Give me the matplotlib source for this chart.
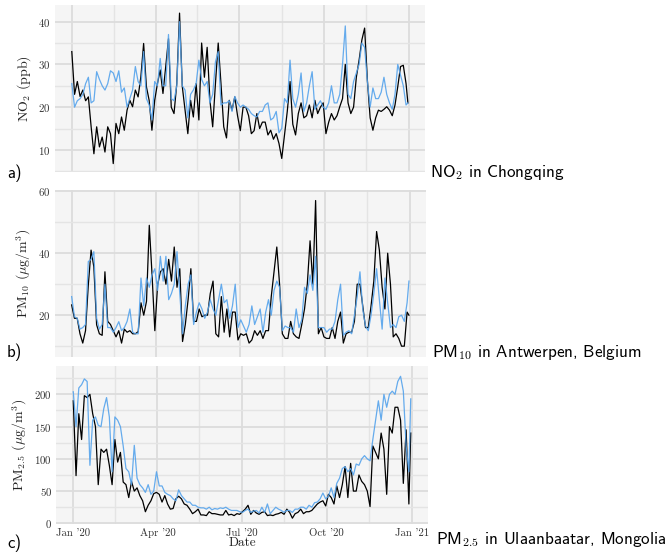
import numpy as np
import pandas as pd
import matplotlib
matplotlib.use("Agg")
import matplotlib.pyplot as plt
import matplotlib.dates as mdates
from matplotlib.ticker import MultipleLocator, FixedLocator

# -----------------------------
# Data (one value every 3 days of 2020)
# -----------------------------
days = list(range(0, 364, 3)) + [365]

no2_obs = [33, 23, 26, 22.5, 24, 21.5, 22.4, 15.4, 9.1, 15.4,
           10.7, 13, 9.5, 15.4, 13.8, 6.8, 16.2, 13.8, 17.7, 14.6,
           19.3, 21.6, 20.1, 24, 22.4, 27.1, 34.9, 24.8, 21.6, 14.6,
           21.6, 25.5, 28.7, 23.2, 29.5, 36, 20, 18.5, 25.5, 42,
           24.8, 19.3, 13.8, 21.6, 17.7, 25.5, 17, 35, 27, 34,
           21.6, 15.4, 25.5, 35, 25.5, 15.4, 12.8, 21.6, 19.3, 22.4,
           18, 14.5, 20, 20, 18, 13.8, 14.5, 18.5, 15, 16.5,
           16.5, 13.5, 14.6, 12.5, 13.8, 11.5, 8, 13.5, 19, 26,
           16, 13.5, 18.5, 21, 17.5, 18, 20.5, 17.5, 21.6, 18.5,
           20, 21, 13.8, 16.5, 18.5, 17, 18, 20.1, 22, 30,
           21, 18.5, 20, 27, 31, 35.7, 38.5, 26.3, 17.5, 14.6,
           17.5, 19.3, 19, 19.5, 20.1, 19.3, 18, 20.5, 24.8, 29.5,
           29.8, 25.5, 21]
no2_mod = [25.5, 20, 21.5, 22, 23, 25.5, 27, 21, 21.5, 28.3,
           26.5, 25, 24, 25.5, 28.5, 28, 26, 28.5, 23.5, 24.5,
           20, 22, 24, 29.5, 26, 25, 33, 22, 20.5, 17,
           26, 25, 31.4, 25, 25, 37, 22, 21.5, 25, 40,
           25, 24, 17.5, 23, 24, 25.5, 31, 26.5, 25, 26,
           21, 23, 30.6, 33, 20.5, 21, 21, 21.5, 19, 22.5,
           21, 20, 20.5, 20, 19.5, 18.5, 18, 17.7, 19, 19,
           20.5, 21, 17, 17.5, 19, 14, 15, 22, 21, 31,
           22, 20, 23, 28, 19, 21, 25, 28.3, 19.5, 20.5,
           21.5, 20, 19.5, 21, 25, 21, 21, 23, 30, 39,
           23, 22, 26, 28, 30, 35, 34, 26, 20, 24.5,
           22, 22, 23.5, 27, 23, 21, 19.5, 23, 30, 27.5,
           25, 20.5, 21]

pm10_obs = [23.3, 19, 19, 14, 11, 15, 29.7, 41, 35.6, 16.9,
            14, 13.5, 34, 18, 17, 15, 13, 15, 11, 15.5,
            14.5, 15, 14, 14, 14.7, 24, 20, 24.5, 49, 33,
            15, 29.7, 34, 35, 30, 38, 31, 42, 29, 35,
            11.5, 17, 25, 35, 18, 18, 22, 19.5, 20, 20,
            27, 31, 14, 13, 26, 14.5, 22, 13, 21, 21,
            12, 14, 13.5, 14, 11, 12, 15, 13.5, 15, 12.5,
            15, 15, 26, 34, 42, 30, 14, 12.5, 12.5, 18,
            14, 13, 12.5, 17, 22, 30, 44, 30, 57, 14,
            16, 13, 12.5, 12.5, 16, 12.5, 18, 21, 11, 14,
            14.5, 14.5, 18, 30, 30, 23, 16, 16, 23, 31,
            47, 41, 29, 22, 40, 30, 13, 14, 12.5, 10,
            10, 21, 20]
pm10_mod = [26, 19.5, 19, 15.5, 16, 17, 37.3, 38, 40.5, 19,
            15.5, 17, 30, 16, 16, 14.5, 16, 17.9, 15, 16,
            18, 22, 14.5, 14, 14, 32, 23, 32, 29, 33,
            35, 28, 39, 31, 39, 25, 27, 30, 40.5, 27,
            14, 23, 30, 33, 17, 21, 24, 22, 19, 21,
            25, 22, 20, 25, 30, 24, 25, 19, 23, 30,
            16, 18.5, 16.5, 14.5, 17, 23, 17, 19.5, 22, 14.5,
            21, 25, 20, 28, 31, 29, 15, 16.5, 16, 16,
            14.5, 22, 16, 18.5, 29, 27, 33, 28, 39, 16,
            16, 16, 14.5, 15.5, 15.5, 18, 25, 30, 13.5, 14.5,
            15, 14, 20, 26, 34, 22, 16.5, 15, 20, 27,
            35, 25, 15.5, 32, 24, 16, 17, 16, 19.5, 20,
            18, 24, 31]

pm25_obs = [190, 74, 170, 130, 198, 195, 200, 170, 150, 60,
            115, 110, 115, 90, 60, 130, 95, 110, 64, 60,
            40, 65, 50, 55, 43, 35, 18, 28, 35, 46,
            48, 45, 33, 43, 30, 22, 23, 38, 42, 38,
            30, 28, 22, 15, 18, 22, 13, 13, 12, 18,
            15, 15, 14, 13, 13, 20, 13, 14, 12, 15,
            14, 18, 22, 28, 14, 20, 16, 14, 17, 18,
            12, 13, 12, 14, 15, 17, 14, 22, 17, 8,
            15, 17, 22, 15, 18, 18, 20, 25, 30, 33,
            35, 27, 45, 40, 30, 58, 40, 60, 88, 40,
            93, 50, 50, 75, 65, 60, 50, 26, 120, 110,
            100, 140, 115, 45, 150, 140, 180, 180, 160, 62,
            145, 30, 140]
pm25_mod = [204, 150, 210, 215, 224, 220, 90, 160, 165, 152,
            150, 178, 195, 165, 80, 165, 160, 150, 120, 85,
            80, 60, 121, 70, 60, 55, 48, 60, 45, 50,
            80, 58, 58, 48, 45, 43, 38, 35, 52, 43,
            38, 33, 33, 28, 28, 25, 24, 24, 22, 25,
            21, 23, 22, 24, 23, 25, 22, 20, 20, 20,
            18, 17, 20, 22, 17, 19, 20, 16, 25, 17,
            30, 15, 20, 25, 22, 20, 17, 20, 20, 17,
            22, 22, 25, 25, 22, 28, 25, 32, 33, 38,
            47, 38, 42, 55, 40, 62, 70, 85, 88, 80,
            85, 75, 92, 90, 100, 105, 100, 97, 130, 160,
            190, 160, 200, 180, 200, 205, 200, 220, 228, 205,
            120, 80, 193]

dates = pd.Timestamp("2020-01-01") + pd.to_timedelta(days, unit="D")

panels = [
    ("a)", r"NO$_\mathsf{2}$ in Chongqing", r"NO$_2$ (ppb)", no2_obs, no2_mod, (4.9, 43.9), 10, 5),
    ("b)", r"PM$_\mathsf{10}$ in Antwerpen, Belgium", r"PM$_{10}$ ($\mu$g/m$^3$)", pm10_obs, pm10_mod, (6.6, 60.4), 20, 10),
    ("c)", r"PM$_\mathsf{2.5}$ in Ulaanbaatar, Mongolia", r"PM$_{2.5}$ ($\mu$g/m$^3$)", pm25_obs, pm25_mod, (-1.5, 244), 50, 25),
]

# positions in pixels: left, top, right, bottom ; label baselines
W, H = 671, 552
boxes = [(55, 5, 424.7, 171.7), (54.8, 190, 425.8, 356.7), (56.4, 366, 427.6, 524.3)]
letter_y = [178, 357, 548]
title_xy = [(430, 177), (432, 357), (436, 544)]

plt.rcParams["mathtext.fontset"] = "cm"
plt.rcParams["axes.formatter.use_mathtext"] = True

fig = plt.figure(figsize=(W / 100, H / 100), dpi=100)

x0 = pd.Timestamp("2020-01-01") - pd.Timedelta(hours=18.25 * 24)
x1 = pd.Timestamp("2020-12-31") + pd.Timedelta(hours=18.25 * 24)
majors = pd.to_datetime(["2020-01-01", "2020-04-01", "2020-07-01", "2020-10-01", "2021-01-01"])
minors = [majors[i] + (majors[i + 1] - majors[i]) / 2 for i in range(len(majors) - 1)]

for i, (letter, title, ylab, obs, mod, ylim, maj, mnr) in enumerate(panels):
    l, t, r, b = boxes[i]
    ax = fig.add_axes([l / W, 1 - b / H, (r - l) / W, (b - t) / H])
    ax.set_facecolor("#f5f5f5")
    for s in ax.spines.values():
        s.set_visible(False)

    ax.plot(dates, obs, color="black", lw=0.9, zorder=3)
    ax.plot(dates, mod, color="#55a3ec", lw=0.9, alpha=0.9, zorder=4)

    ax.set_xlim(x0, x1)
    ax.set_ylim(*ylim)
    ax.xaxis.set_major_locator(FixedLocator(mdates.date2num(majors)))
    ax.xaxis.set_minor_locator(FixedLocator(mdates.date2num(minors)))
    ax.xaxis.set_major_formatter(mdates.DateFormatter("%b '%y"))
    ax.yaxis.set_major_locator(MultipleLocator(maj))
    ax.yaxis.set_minor_locator(MultipleLocator(mnr))

    ax.grid(which="major", color="#dcdcdc", lw=1.3, zorder=0)
    ax.grid(which="minor", color="#e4e4e4", lw=1.0, zorder=0)
    ax.set_axisbelow(True)
    ax.tick_params(which="both", length=0, pad=3, labelsize=7.8, colors="#333333")
    for lab in ax.get_yticklabels() + ax.get_xticklabels():
        lab.set_fontfamily("cmr10")
    if i < 2:
        ax.tick_params(labelbottom=False)
    else:
        ax.set_xlabel("Date", family="cmr10", fontsize=9.5, labelpad=-1, color="#222222")
    ax.set_ylabel(ylab, family="cmr10", fontsize=10, labelpad=4, color="#222222")

    fig.text(7 / W, 1 - letter_y[i] / H, letter, family="cmss10", fontsize=12, va="baseline")
    tx, ty = title_xy[i]
    fig.text(tx / W, 1 - ty / H, title, family="cmss10", fontsize=12.3, va="baseline")

fig.savefig("out.png", dpi=100)
